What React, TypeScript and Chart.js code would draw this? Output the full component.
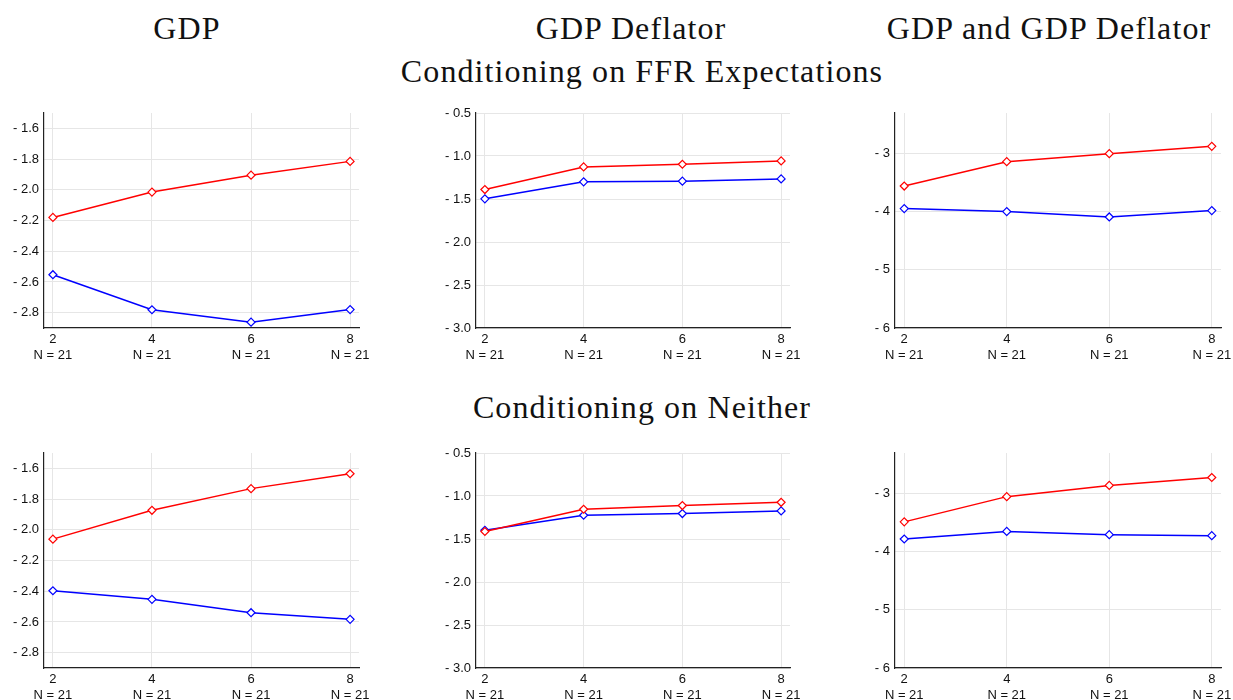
import React, { useEffect, useRef } from "react";
import { Chart, registerables } from "chart.js";

Chart.register(...registerables);

// ---- data ----
const xValues = [2, 4, 6, 8];
const nLabels = ["N = 21", "N = 21", "N = 21", "N = 21"];

const gdpFfrRed = [-2.18, -2.015, -1.905, -1.815];
const gdpFfrBlue = [-2.553, -2.781, -2.862, -2.78];
const deflFfrRed = [-1.39, -1.127, -1.096, -1.057];
const deflFfrBlue = [-1.498, -1.3, -1.293, -1.266];
const bothFfrRed = [-3.557, -3.138, -3.0, -2.874];
const bothFfrBlue = [-3.945, -3.997, -4.089, -3.98];

const gdpNeiRed = [-2.061, -1.873, -1.732, -1.635];
const gdpNeiBlue = [-2.397, -2.453, -2.54, -2.583];
const deflNeiRed = [-1.413, -1.154, -1.111, -1.073];
const deflNeiBlue = [-1.398, -1.224, -1.204, -1.173];
const bothNeiRed = [-3.485, -3.051, -2.858, -2.722];
const bothNeiBlue = [-3.78, -3.65, -3.706, -3.723];

const gdpTicks = [-2.8, -2.6, -2.4, -2.2, -2.0, -1.8, -1.6];
const deflTicks = [-3.0, -2.5, -2.0, -1.5, -1.0, -0.5];
const bothTicks = [-6, -5, -4, -3];

const gdpRange = [-2.9, -1.5];
const deflRange = [-3.0, -0.5];
const bothRange = [-6, -2.3];

const xRange = [1.82, 8.18];

const columnTitles = ["GDP", "GDP Deflator", "GDP and GDP Deflator"];
const rowTitles = ["Conditioning on FFR Expectations", "Conditioning on Neither"];

const RED = "#ff0000";
const BLUE = "#0000ff";

type PanelProps = {
  left: number;
  top: number;
  width: number;
  yAxisWidth: number;
  padRight: number;
  red: number[];
  blue: number[];
  yTicks: number[];
  yRange: number[];
  decimals: number;
};

function fmt(v: number, d: number) {
  const s = Math.abs(v).toFixed(d);
  return v < 0 ? "- " + s : s;
}

function Panel(p: PanelProps) {
  const ref = useRef<HTMLCanvasElement | null>(null);
  const H = 270;
  useEffect(() => {
    if (!ref.current) return;
    const mk = (vals: number[], color: string) => ({
      data: xValues.map((x, i) => ({ x, y: vals[i] })),
      borderColor: color,
      backgroundColor: "#ffffff",
      borderWidth: 1.5,
      pointStyle: "rectRot" as const,
      pointRadius: 4,
      pointBorderWidth: 1.2,
      pointBorderColor: color,
      pointBackgroundColor: "#ffffff",
      tension: 0,
      fill: false,
    });
    const tickFont = { family: "'Liberation Sans', Arial, sans-serif", size: 13 };
    const chart = new Chart(ref.current, {
      type: "line",
      data: { datasets: [mk(p.red, RED), mk(p.blue, BLUE)] },
      options: {
        animation: false,
        responsive: false,
        layout: { padding: { top: 13, right: p.padRight, left: 0, bottom: 0 } },
        plugins: { legend: { display: false }, tooltip: { enabled: false } },
        scales: {
          x: {
            type: "linear",
            min: xRange[0],
            max: xRange[1],
            afterBuildTicks: (s: any) => {
              s.ticks = xValues.map((v) => ({ value: v }));
            },
            afterFit: (s: any) => {
              s.height = H - 13 - 215;
              s.paddingLeft = 0;
              s.paddingRight = 0;
            },
            grid: { color: "#e6e6e6", drawTicks: false, lineWidth: 1 },
            border: { display: true, color: "#222", width: 1.2 },
            ticks: {
              autoSkip: false,
              maxRotation: 0,
              padding: 3,
              color: "#111",
              font: { ...tickFont, lineHeight: 1.25 },
              callback: (v: any, i: number) => [String(v), nLabels[i]],
            },
          },
          y: {
            type: "linear",
            min: p.yRange[0],
            max: p.yRange[1],
            afterBuildTicks: (s: any) => {
              s.ticks = p.yTicks.map((v) => ({ value: v }));
            },
            afterFit: (s: any) => {
              s.width = p.yAxisWidth;
              s.paddingTop = 0;
              s.paddingBottom = 0;
            },
            grid: { color: "#e6e6e6", drawTicks: false, lineWidth: 1 },
            border: { display: true, color: "#222", width: 1.2 },
            ticks: {
              padding: 5,
              color: "#111",
              font: tickFont,
              callback: (v: any) => fmt(Number(v), p.decimals),
            },
          },
        },
      },
    } as any);
    return () => chart.destroy();
  }, []);
  return (
    <canvas
      ref={ref}
      width={p.width}
      height={H}
      style={{ position: "absolute", left: p.left, top: p.top, width: p.width, height: H }}
    />
  );
}

const titleStyle: React.CSSProperties = {
  position: "absolute",
  fontFamily: "'Liberation Serif', 'Times New Roman', serif",
  fontSize: 32,
  lineHeight: "32px",
  letterSpacing: 1.1,
  color: "#111",
  whiteSpace: "nowrap",
  transform: "translateX(-50%)",
};

export default function App() {
  const cols = [
    { left: 0, width: 380, yAxisWidth: 44, padRight: 21 },
    { left: 420, width: 400, yAxisWidth: 56, padRight: 30 },
    { left: 840, width: 393, yAxisWidth: 55, padRight: 12 },
  ];
  const rows = [
    { top: 100, sets: [[gdpFfrRed, gdpFfrBlue], [deflFfrRed, deflFfrBlue], [bothFfrRed, bothFfrBlue]] },
    { top: 440, sets: [[gdpNeiRed, gdpNeiBlue], [deflNeiRed, deflNeiBlue], [bothNeiRed, bothNeiBlue]] },
  ];
  const axes = [
    { ticks: gdpTicks, range: gdpRange, dec: 1 },
    { ticks: deflTicks, range: deflRange, dec: 1 },
    { ticks: bothTicks, range: bothRange, dec: 0 },
  ];
  const colCenters = [187, 631, 1049];
  return (
    <div
      style={{
        position: "absolute",
        left: 0,
        top: 0,
        width: 1233,
        height: 700,
        overflow: "hidden",
        background: "#fff",
      }}
    >
      {columnTitles.map((t, i) => (
        <div key={t} style={{ ...titleStyle, left: colCenters[i], top: 12 }}>
          {t}
        </div>
      ))}
      <div style={{ ...titleStyle, left: 642, top: 55 }}>{rowTitles[0]}</div>
      <div style={{ ...titleStyle, left: 642, top: 391 }}>{rowTitles[1]}</div>
      {rows.map((r, ri) =>
        cols.map((c, ci) => (
          <Panel
            key={ri + "-" + ci}
            left={c.left}
            top={r.top}
            width={c.width}
            yAxisWidth={c.yAxisWidth}
            padRight={c.padRight}
            red={r.sets[ci][0]}
            blue={r.sets[ci][1]}
            yTicks={axes[ci].ticks}
            yRange={axes[ci].range}
            decimals={axes[ci].dec}
          />
        ))
      )}
    </div>
  );
}
